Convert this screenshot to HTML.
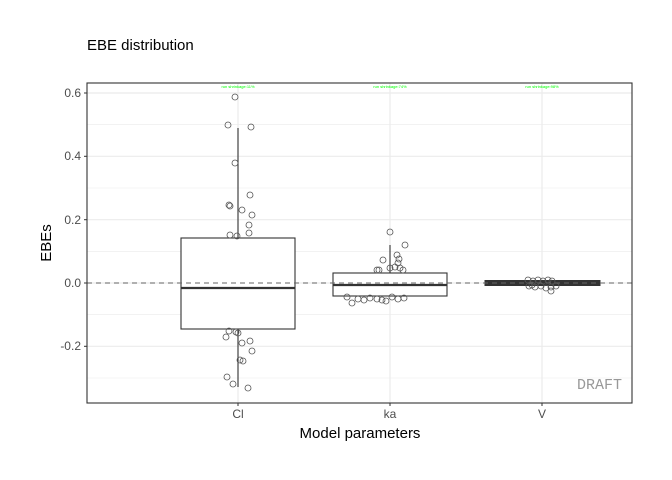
<!DOCTYPE html>
<html><head><style>body{margin:0;background:#fff}svg{display:block}text{font-family:"Liberation Sans",sans-serif}</style></head>
<body>
<svg width="672" height="480" viewBox="0 0 672 480" xmlns="http://www.w3.org/2000/svg">
<text x="87" y="50" font-size="15" fill="#000">EBE distribution</text>
<g stroke="#ebebeb" stroke-width="0.6">
<line x1="87" x2="632" y1="124.7" y2="124.7"/><line x1="87" x2="632" y1="188" y2="188"/><line x1="87" x2="632" y1="251.3" y2="251.3"/><line x1="87" x2="632" y1="314.7" y2="314.7"/><line x1="87" x2="632" y1="378" y2="378"/>
</g>
<g stroke="#ebebeb" stroke-width="1.2">
<line x1="87" x2="632" y1="93" y2="93"/><line x1="87" x2="632" y1="156.3" y2="156.3"/><line x1="87" x2="632" y1="219.7" y2="219.7"/><line x1="87" x2="632" y1="283" y2="283"/><line x1="87" x2="632" y1="346.3" y2="346.3"/>
<line x1="238" x2="238" y1="83" y2="403"/><line x1="390" x2="390" y1="83" y2="403"/><line x1="542" x2="542" y1="83" y2="403"/>
</g>
<g fill="#00ff00" font-size="4" text-anchor="middle"><text x="238" y="88">run shrinkage:11%</text><text x="390" y="88">run shrinkage:74%</text><text x="542" y="88">run shrinkage:98%</text></g>
<g stroke="#333" stroke-width="1.1" fill="none">
<line x1="238" x2="238" y1="128" y2="238"/><line x1="238" x2="238" y1="329" y2="387"/>
<rect x="181" y="238" width="114" height="91" fill="#fff"/>
<line x1="390" x2="390" y1="245" y2="273"/>
<rect x="333" y="273" width="114" height="23" fill="#fff"/>
</g>
<line x1="181" x2="295" y1="288" y2="288" stroke="#333" stroke-width="2.2"/>
<line x1="333" x2="447" y1="285" y2="285" stroke="#333" stroke-width="2.2"/>
<rect x="485" y="280.5" width="115" height="5" fill="#333" stroke="#333"/>
<g fill="none" stroke="#555" stroke-width="0.8">
<circle cx="235" cy="97" r="3"/><circle cx="228" cy="125" r="3"/><circle cx="251" cy="127" r="3"/><circle cx="235" cy="163" r="3"/><circle cx="229" cy="205" r="3"/><circle cx="230" cy="206" r="3"/><circle cx="250" cy="195" r="3"/><circle cx="242" cy="210" r="3"/><circle cx="252" cy="215" r="3"/><circle cx="249" cy="225" r="3"/><circle cx="249" cy="233" r="3"/><circle cx="230" cy="235" r="3"/><circle cx="237" cy="236" r="3"/>
<circle cx="229" cy="331" r="3"/><circle cx="226" cy="337" r="3"/><circle cx="242" cy="343" r="3"/><circle cx="250" cy="341" r="3"/><circle cx="252" cy="351" r="3"/><circle cx="240" cy="360" r="3"/><circle cx="243" cy="361" r="3"/><circle cx="227" cy="377" r="3"/><circle cx="233" cy="384" r="3"/><circle cx="248" cy="388" r="3"/><circle cx="236" cy="332" r="3"/><circle cx="238" cy="333" r="3"/>
<circle cx="390" cy="232" r="3"/><circle cx="405" cy="245" r="3"/><circle cx="397" cy="255" r="3"/><circle cx="399" cy="259" r="3"/><circle cx="383" cy="260" r="3"/><circle cx="398" cy="263" r="3"/><circle cx="395" cy="267" r="3"/><circle cx="400" cy="268" r="3"/><circle cx="390" cy="268" r="3"/><circle cx="377" cy="270" r="3"/><circle cx="379" cy="270" r="3"/><circle cx="403" cy="270" r="3"/>
<circle cx="347" cy="297" r="3"/><circle cx="352" cy="303" r="3"/><circle cx="358" cy="299" r="3"/><circle cx="364" cy="300" r="3"/><circle cx="370" cy="298" r="3"/><circle cx="377" cy="299" r="3"/><circle cx="382" cy="300" r="3"/><circle cx="392" cy="297" r="3"/><circle cx="398" cy="299" r="3"/><circle cx="404" cy="298" r="3"/><circle cx="386" cy="301" r="3"/>
<circle cx="528" cy="280" r="3"/><circle cx="533" cy="281" r="3"/><circle cx="538" cy="280" r="3"/><circle cx="543" cy="281" r="3"/><circle cx="548" cy="280" r="3"/><circle cx="552" cy="281" r="3"/><circle cx="529" cy="286" r="3"/><circle cx="535" cy="287" r="3"/><circle cx="541" cy="286" r="3"/><circle cx="546" cy="288" r="3"/><circle cx="551" cy="291" r="3"/><circle cx="551" cy="287" r="3"/><circle cx="556" cy="286" r="3"/><circle cx="532" cy="285" r="3"/>
</g>
<line x1="87" x2="632" y1="283" y2="283" stroke="#666" stroke-width="1" stroke-dasharray="5,4"/>
<rect x="87" y="83" width="545" height="320" fill="none" stroke="#333" stroke-width="1.1"/>
<text x="622" y="389" font-family="Liberation Mono,monospace" font-size="15" fill="#999" text-anchor="end" style="font-family:'Liberation Mono',monospace">DRAFT</text>
<g font-size="12" fill="#4d4d4d" text-anchor="end">
<text x="81" y="97">0.6</text><text x="81" y="160">0.4</text><text x="81" y="224">0.2</text><text x="81" y="287">0.0</text><text x="81" y="350">-0.2</text>
</g>
<g stroke="#333"><line x1="84" x2="87" y1="93" y2="93"/><line x1="84" x2="87" y1="156.3" y2="156.3"/><line x1="84" x2="87" y1="219.7" y2="219.7"/><line x1="84" x2="87" y1="283" y2="283"/><line x1="84" x2="87" y1="346.3" y2="346.3"/>
<line x1="238" x2="238" y1="403" y2="406"/><line x1="390" x2="390" y1="403" y2="406"/><line x1="542" x2="542" y1="403" y2="406"/></g>
<g font-size="12" fill="#4d4d4d" text-anchor="middle"><text x="238" y="418">Cl</text><text x="390" y="418">ka</text><text x="542" y="418">V</text></g>
<text x="360" y="438" font-size="15" text-anchor="middle">Model parameters</text>
<text transform="translate(51,243) rotate(-90)" font-size="15" text-anchor="middle">EBEs</text>
</svg>
</body></html>
